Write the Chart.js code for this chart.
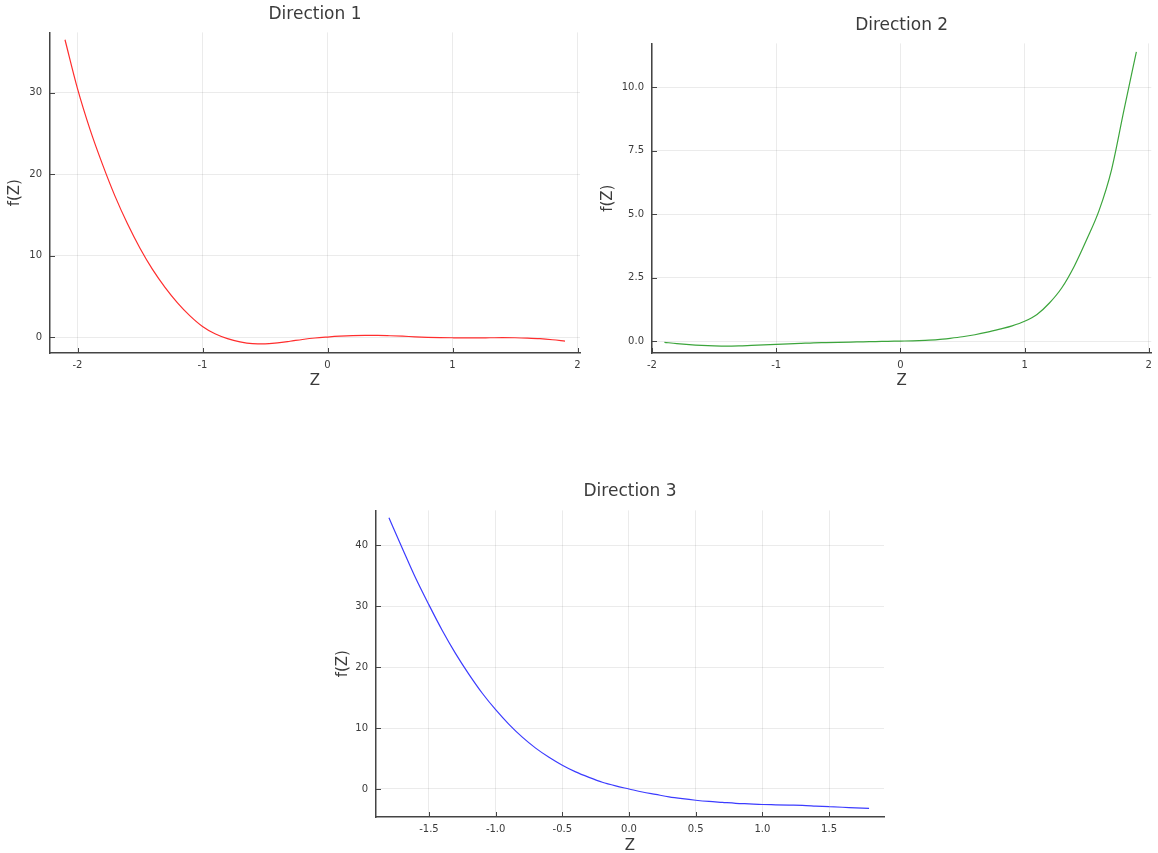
<!DOCTYPE html>
<html>
<head>
<meta charset="utf-8">
<script src="https://cdn.jsdelivr.net/npm/chart.js@4/dist/chart.umd.min.js"></script>
<style>
  body { margin: 0; background: #fff; width: 1158px; height: 853px; position: relative; overflow: hidden; }
  .box { position: absolute; }
</style>
</head>
<body>
<div class="box" style="left:0px;top:0px;width:590px;height:395px"><canvas id="c1"></canvas></div>
<div class="box" style="left:593px;top:0px;width:565px;height:395px"><canvas id="c2"></canvas></div>
<div class="box" style="left:328px;top:460px;width:566px;height:400px"><canvas id="c3"></canvas></div>
<script>
// Direction 1
const z1 = [-2.1, -2.0, -1.9, -1.8, -1.7, -1.6, -1.5, -1.4, -1.3, -1.2, -1.1, -1.0, -0.9, -0.8, -0.7, -0.6, -0.5, -0.4, -0.3, -0.2, -0.1,
  0.0, 0.1, 0.2, 0.3, 0.4, 0.5, 0.6, 0.7, 0.8, 0.9, 1.0, 1.1, 1.2, 1.3, 1.4, 1.5, 1.6, 1.7, 1.8, 1.9];
const f1 = [36.5, 30.5, 25.5, 21.2, 17.3, 13.9, 10.9, 8.3, 6.1, 4.2, 2.6, 1.3, 0.4, -0.2, -0.6, -0.82, -0.85, -0.72, -0.52, -0.3, -0.12,
  0.0, 0.1, 0.17, 0.2, 0.2, 0.16, 0.1, 0.03, -0.03, -0.07, -0.09, -0.1, -0.1, -0.09, -0.08, -0.09, -0.13, -0.2, -0.33, -0.5];
const xTicks1 = [-2, -1, 0, 1, 2];
const yTicks1 = [0, 10, 20, 30];

// Direction 2
const z2 = [-1.9, -1.8, -1.7, -1.6, -1.5, -1.4, -1.3, -1.2, -1.1, -1.0, -0.9, -0.8, -0.7, -0.6, -0.5, -0.4, -0.3, -0.2, -0.1,
  0.0, 0.1, 0.2, 0.3, 0.4, 0.5, 0.6, 0.7, 0.8, 0.9, 1.0, 1.1, 1.2, 1.3, 1.4, 1.5, 1.6, 1.7, 1.8, 1.9];
const f2 = [-0.05, -0.1, -0.14, -0.17, -0.19, -0.2, -0.19, -0.17, -0.15, -0.13, -0.11, -0.09, -0.07, -0.06, -0.05, -0.04, -0.03, -0.02, -0.01,
  0.0, 0.01, 0.03, 0.06, 0.11, 0.17, 0.25, 0.35, 0.47, 0.6, 0.78, 1.05, 1.5, 2.1, 2.95, 4.0, 5.15, 6.75, 9.1, 11.4];
const xTicks2 = [-2, -1, 0, 1, 2];
const yTicks2 = [0, 2.5, 5, 7.5, 10];

// Direction 3
const z3 = [-1.8, -1.7, -1.6, -1.5, -1.4, -1.3, -1.2, -1.1, -1.0, -0.9, -0.8, -0.7, -0.6, -0.5, -0.4, -0.3, -0.2, -0.1,
  0.0, 0.1, 0.2, 0.3, 0.4, 0.5, 0.6, 0.7, 0.8, 0.9, 1.0, 1.1, 1.2, 1.3, 1.4, 1.5, 1.6, 1.7, 1.8];
const f3 = [44.5, 39.5, 34.6, 30.2, 26.0, 22.2, 18.8, 15.7, 13.0, 10.6, 8.5, 6.7, 5.2, 3.9, 2.8, 1.9, 1.1, 0.5,
  0.0, -0.5, -0.9, -1.3, -1.6, -1.85, -2.05, -2.2, -2.35, -2.45, -2.55, -2.6, -2.65, -2.7, -2.8, -2.9, -3.0, -3.1, -3.2];
const xTicks3 = [-1.5, -1.0, -0.5, 0.0, 0.5, 1.0, 1.5];
const yTicks3 = [0, 10, 20, 30, 40];

const textColor = '#3b3b3b';
const gridColor = 'rgba(0,0,0,0.08)';
const axisColor = '#444';
const fontName = 'DejaVu Sans';

// small inward tick marks like the original plot
const innerTicks = {
  id: 'innerTicks',
  afterDraw(chart) {
    const ctx = chart.ctx;
    const a = chart.chartArea;
    ctx.save();
    ctx.strokeStyle = axisColor;
    ctx.lineWidth = 1;
    chart.scales.x.ticks.forEach(t => {
      const px = Math.round(chart.scales.x.getPixelForValue(t.value)) + 0.5;
      ctx.beginPath(); ctx.moveTo(px, a.bottom); ctx.lineTo(px, a.bottom - 5); ctx.stroke();
    });
    chart.scales.y.ticks.forEach(t => {
      const py = Math.round(chart.scales.y.getPixelForValue(t.value)) + 0.5;
      ctx.beginPath(); ctx.moveTo(a.left, py); ctx.lineTo(a.left + 5, py); ctx.stroke();
    });
    ctx.restore();
  }
};

function makeChart(id, xs, ys, color, title, xr, yr, xTicks, yTicks, xFmt, yFmt, lay) {
  const points = xs.map((x, i) => ({ x: x, y: ys[i] }));
  return new Chart(document.getElementById(id), {
    type: 'line',
    data: {
      datasets: [{
        data: points,
        borderColor: color,
        borderWidth: 1.2,
        pointRadius: 0,
        cubicInterpolationMode: 'monotone',
        fill: false
      }]
    },
    plugins: [innerTicks],
    options: {
      responsive: true,
      maintainAspectRatio: false,
      animation: false,
      devicePixelRatio: 1,
      layout: { padding: { right: lay.right, top: 0, bottom: 0, left: 0 } },
      plugins: {
        legend: { display: false },
        tooltip: { enabled: false },
        title: {
          display: true,
          fullSize: false,
          text: title,
          color: textColor,
          font: { family: fontName, size: 17, weight: 'normal' },
          padding: { top: lay.titleTop, bottom: lay.titleBottom }
        }
      },
      scales: {
        x: {
          type: 'linear',
          min: xr[0],
          max: xr[1],
          afterBuildTicks: axis => { axis.ticks = xTicks.map(v => ({ value: v })); },
          afterFit: scale => { scale.height = lay.xHeight; },
          border: { display: true, color: axisColor, width: 1.5 },
          grid: { color: gridColor, drawTicks: false },
          ticks: { color: textColor, font: { family: fontName, size: 10 }, padding: 6, maxRotation: 0, callback: xFmt },
          title: { display: true, text: 'Z', color: textColor, font: { family: fontName, size: 15 }, padding: { top: 0, bottom: 5 } }
        },
        y: {
          type: 'linear',
          min: yr[0],
          max: yr[1],
          afterBuildTicks: axis => { axis.ticks = yTicks.map(v => ({ value: v })); },
          afterFit: scale => { scale.width = lay.yWidth; },
          border: { display: true, color: axisColor, width: 1.5 },
          grid: { color: gridColor, drawTicks: false },
          ticks: { color: textColor, font: { family: fontName, size: 10 }, padding: 8, callback: yFmt },
          title: { display: true, text: 'f(Z)', color: textColor, font: { family: fontName, size: 15 }, padding: { top: 6, bottom: 0 } }
        }
      }
    }
  });
}

const intFmt = v => String(v);
const oneDec = v => v.toFixed(1);

makeChart('c1', z1, f1, 'rgb(255,45,45)', 'Direction 1', [-2.22, 2.02], [-1.96, 37.4], xTicks1, yTicks1, intFmt, intFmt,
  { right: 10, titleTop: 4, titleBottom: 8, xHeight: 42, yWidth: 50 });
makeChart('c2', z2, f2, 'rgb(60,165,60)', 'Direction 2', [-2.0, 2.02], [-0.47, 11.73], xTicks2, yTicks2, intFmt, oneDec,
  { right: 3, titleTop: 15, titleBottom: 8, xHeight: 42, yWidth: 59 });
makeChart('c3', z3, f3, 'rgb(60,60,255)', 'Direction 3', [-1.897, 1.912], [-4.6, 45.7], xTicks3, yTicks3, oneDec, intFmt,
  { right: 10, titleTop: 21, titleBottom: 9, xHeight: 43, yWidth: 48 });
</script>
</body>
</html>
